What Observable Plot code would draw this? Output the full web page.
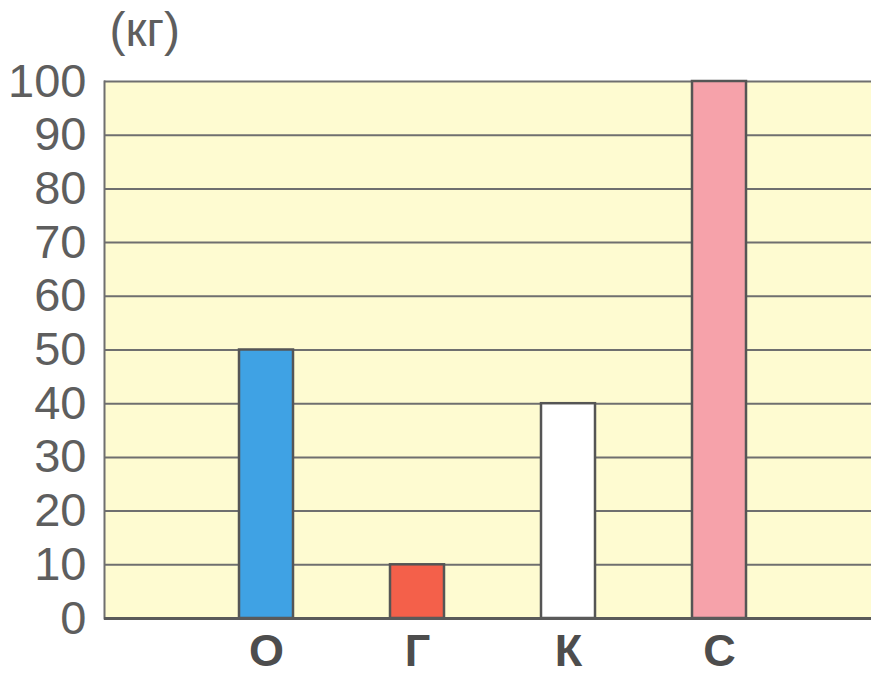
<!DOCTYPE html>
<html>
<head>
<meta charset="utf-8">
<script src="https://cdn.jsdelivr.net/npm/d3@7"></script>
<script src="https://cdn.jsdelivr.net/npm/@observablehq/plot@0.6"></script>
<style>
  html, body { margin: 0; padding: 0; background: #ffffff; }
  #chart svg { display: block; }
</style>
</head>
<body>
<div id="chart"></div>
<script>
const categories = ["О", "Г", "К", "С"];
const values = [50, 10, 40, 100];
const yTicks = [0, 10, 20, 30, 40, 50, 60, 70, 80, 90, 100];
const unitLabel = "(кг)";

const data = categories.map((c, i) => ({ cat: c, value: values[i] }));

const chart = Plot.plot({
  width: 871,
  height: 676,
  marginLeft: 104,
  marginRight: 0,
  marginTop: 81,
  marginBottom: 58,
  style: { fontFamily: "Liberation Sans, Arial, sans-serif", background: "#ffffff" },
  x: { domain: categories, paddingInner: 0.642, paddingOuter: 0.86, align: 0.52, label: null },
  y: { domain: [0, 100], label: null },
  color: { domain: categories, range: ["#3fa2e4", "#f4604a", "#ffffff", "#f6a2aa"] },
  marks: [
    Plot.frame({ fill: "#fefbd1", stroke: null }),
    Plot.ruleY(yTicks.filter(d => d > 0), { stroke: "#6f6f6f", strokeWidth: 2 }),
    Plot.frame({ anchor: "left", stroke: "#6f6f6f", strokeWidth: 2 }),
    Plot.barY(data, { x: "cat", y: "value", fill: "cat", stroke: "#555555", strokeWidth: 2.5 }),
    Plot.ruleY([0], { stroke: "#5a5a5a", strokeWidth: 3 }),
    Plot.axisY({ ticks: yTicks, tickSize: 0, tickPadding: 18, fontSize: 47, fill: "#5e5e5e", style: "letter-spacing:-2.5px" }),
    Plot.axisX({ tickSize: 0, tickPadding: 16, fontSize: 45, fontWeight: "bold", fill: "#4d4d4d" }),
    Plot.text([unitLabel], { frameAnchor: "top-left", dx: 5, dy: -70, fontSize: 48, fill: "#5e5e5e", textAnchor: "start" })
  ]
});

document.getElementById("chart").appendChild(chart);
</script>
</body>
</html>
